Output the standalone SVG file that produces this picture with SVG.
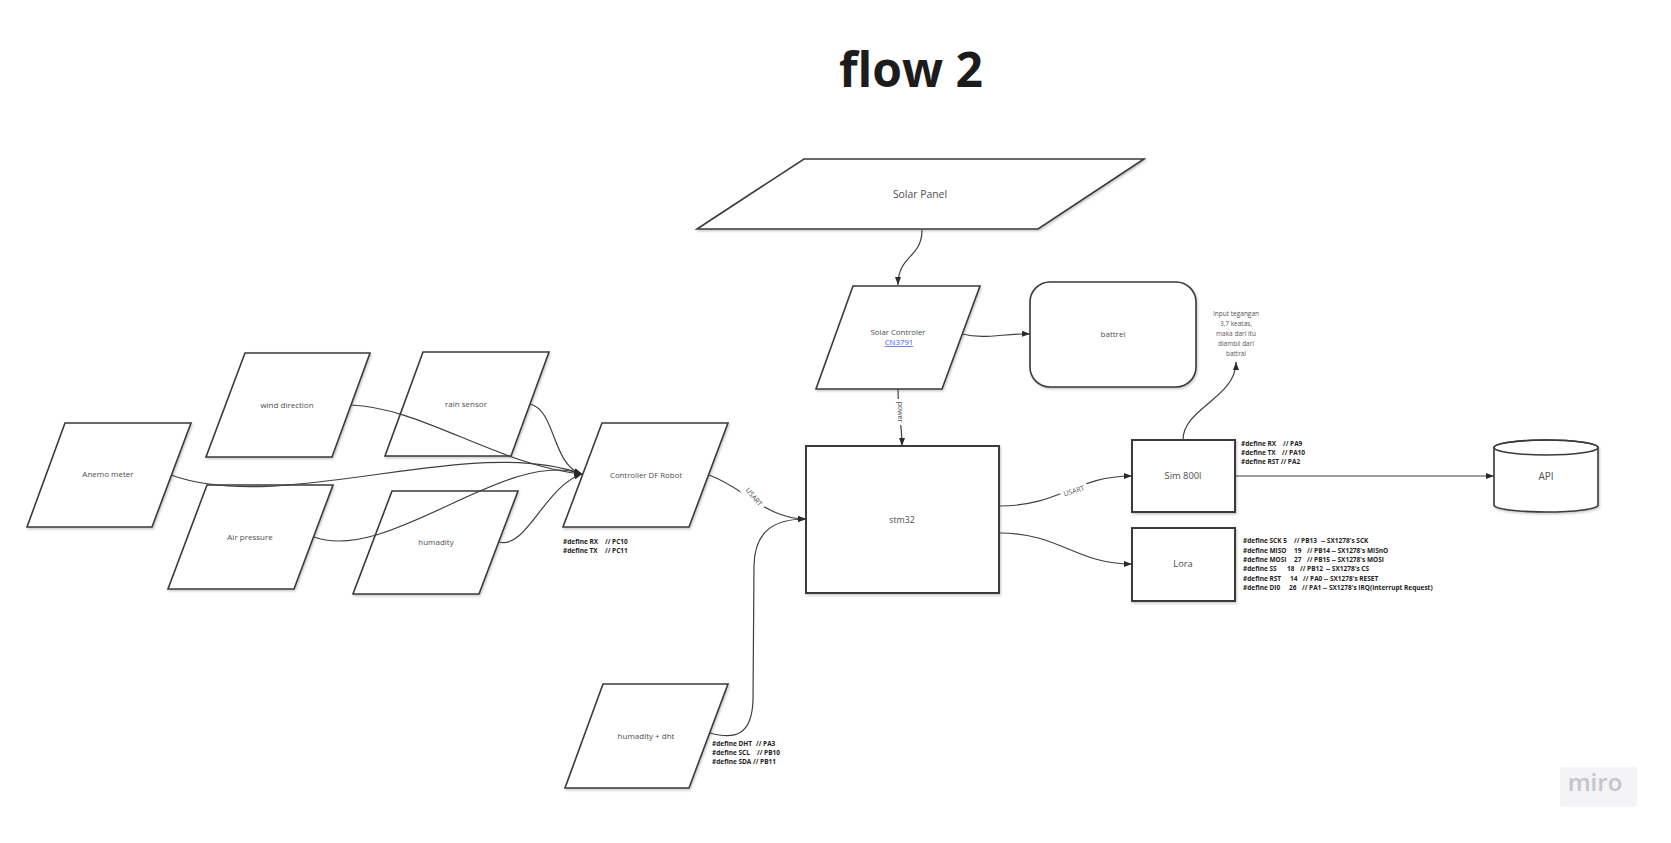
<svg xmlns="http://www.w3.org/2000/svg" width="1671" height="843" viewBox="0 0 1671 843">
  <defs>
    <filter id="sh" x="-10%" y="-10%" width="130%" height="130%">
      <feDropShadow dx="1" dy="1.5" stdDeviation="1.2" flood-color="#000" flood-opacity="0.22"/>
    </filter>
    <marker id="ah" markerUnits="userSpaceOnUse" markerWidth="8" markerHeight="6" refX="8" refY="3" orient="auto">
      <path d="M0,0 L8,3 L0,6 z" fill="#2b2b2b"/>
    </marker>
  </defs>
  <style>
    .shape { fill: #ffffff; stroke: #3a3a3a; stroke-width: 1.6; filter: url(#sh); }
    .lbl { font-family: "Open Sans", "Liberation Sans", sans-serif; fill: #4d4d4d; text-anchor: middle; font-size: 8px; }
    .def { font-family: "Open Sans", "Liberation Sans", sans-serif; fill: #222222; font-weight: 700; font-size: 6.5px; }
    .note { font-family: "Open Sans", "Liberation Sans", sans-serif; fill: #555555; font-size: 6.5px; text-anchor: middle; }
    .conn { fill: none; stroke: #3f3f3f; stroke-width: 1.2; }
    .clbl { font-family: "Open Sans", "Liberation Sans", sans-serif; fill: #4d4d4d; font-size: 7px; text-anchor: middle; }
  </style>
  <rect width="1671" height="843" fill="#ffffff"/>

  <text x="911" y="87" font-family="'Open Sans', 'Liberation Sans', sans-serif" font-size="48" font-weight="700" fill="#1c1c1c" text-anchor="middle">flow 2</text>

  <g id="solar-panel">
    <polygon class="shape" points="804,159 1144,159 1038,229 697,229"/>
    <text class="lbl" x="920" y="197.6" style="font-size:10.4px">Solar Panel</text>
  </g>
  <g id="solar-controller">
    <polygon class="shape" points="853,286 980,286 942,389 816,389"/>
    <text class="lbl" x="898" y="334.5" style="font-size:7.8px">Solar Controler</text>
    <text class="lbl" x="899" y="345" text-decoration="underline" style="font-size:7.8px;fill:#4262ff">CN3791</text>
  </g>
  <g id="battrei">
    <rect class="shape" x="1030" y="282" width="166" height="105" rx="20"/>
    <text class="lbl" x="1113" y="337">battrei</text>
  </g>
  <g id="note">
    <text class="note" x="1236" y="316">Input tegangan</text>
    <text class="note" x="1236" y="326">3,7 keatas,</text>
    <text class="note" x="1236" y="336">maka dari itu</text>
    <text class="note" x="1236" y="346">diambil dari</text>
    <text class="note" x="1236" y="356">battrai</text>
  </g>
  <g id="anemo-meter">
    <polygon class="shape" points="65,423 191,423 152,527 27,527"/>
    <text class="lbl" x="108" y="477">Anemo meter</text>
  </g>
  <g id="wind-direction">
    <polygon class="shape" points="245,353 370,353 332,457 206,457"/>
    <text class="lbl" x="287" y="407.5">wind direction</text>
  </g>
  <g id="rain-sensor">
    <polygon class="shape" points="423,352 549,352 511,456 385,456"/>
    <text class="lbl" x="466" y="406.5">rain sensor</text>
  </g>
  <g id="air-pressure">
    <polygon class="shape" points="207,485 333,485 294,589 168,589"/>
    <text class="lbl" x="250" y="540">Air pressure</text>
  </g>
  <g id="humadity">
    <polygon class="shape" points="392,491 518,491 479,594 353,594"/>
    <text class="lbl" x="436" y="545">humadity</text>
  </g>
  <g id="controller-df-robot">
    <polygon class="shape" points="602,423 728,423 689,527 563,527"/>
    <text class="lbl" x="646" y="477.5" style="font-size:7.8px">Controller DF Robot</text>
    <text class="def" x="563" y="543.5">#define RX<tspan x="605">// PC10</tspan></text>
    <text class="def" x="563" y="553">#define TX<tspan x="605">// PC11</tspan></text>
  </g>
  <g id="humadity-dht">
    <polygon class="shape" points="603,684 728,684 689,788 565,788"/>
    <text class="lbl" x="646" y="739">humadity + dht</text>
    <text class="def" x="712" y="745.5">#define DHT<tspan x="756">// PA3</tspan></text>
    <text class="def" x="712" y="755">#define SCL<tspan x="757">// PB10</tspan></text>
    <text class="def" x="712" y="764">#define SDA // PB11</text>
  </g>
  <g id="stm32">
    <rect class="shape" x="806" y="446" width="193" height="147" style="stroke-width:2"/>
    <text class="lbl" x="902" y="522.5" style="font-size:8.8px">stm32</text>
  </g>
  <g id="sim800l">
    <rect class="shape" x="1132" y="440" width="103" height="72" style="stroke-width:2"/>
    <text class="lbl" x="1183" y="479.3" style="font-size:9.3px">Sim 800l</text>
    <text class="def" x="1241" y="445.5">#define RX<tspan x="1283">// PA9</tspan></text>
    <text class="def" x="1241" y="454.5">#define TX<tspan x="1282">// PA10</tspan></text>
    <text class="def" x="1241" y="463.5">#define RST // PA2</text>
  </g>
  <g id="lora">
    <rect class="shape" x="1132" y="528" width="103" height="73" style="stroke-width:2"/>
    <text class="lbl" x="1183" y="567.3" style="font-size:9.3px">Lora</text>
    <text class="def" x="1243" y="543.3">#define SCK 5<tspan x="1294">// PB13</tspan><tspan x="1321">-- SX1278's SCK</tspan></text>
    <text class="def" x="1243" y="552.6">#define MISO<tspan x="1294">19</tspan><tspan x="1307">// PB14 -- SX1278's MISnO</tspan></text>
    <text class="def" x="1243" y="562">#define MOSI<tspan x="1294">27</tspan><tspan x="1307">// PB15 -- SX1278's MOSI</tspan></text>
    <text class="def" x="1243" y="571.3">#define SS<tspan x="1287">18</tspan><tspan x="1300">// PB12</tspan><tspan x="1326">-- SX1278's CS</tspan></text>
    <text class="def" x="1243" y="581">#define RST<tspan x="1290">14</tspan><tspan x="1303">// PA0 -- SX1278's RESET</tspan></text>
    <text class="def" x="1243" y="590.3">#define DI0<tspan x="1289">26</tspan><tspan x="1302">// PA1 -- SX1278's IRQ(Interrupt Request)</tspan></text>
  </g>
  <g id="api">
    <path class="shape" d="M1494,447.5 L1494,505 A52,7 0 0 0 1598,505 L1598,447.5 A52,7.5 0 0 0 1494,447.5 Z"/>
    <ellipse cx="1546" cy="447.5" rx="52" ry="7.5" fill="none" stroke="#3a3a3a" stroke-width="1.6"/>
    <text class="lbl" x="1546" y="479.5" style="font-size:10px">API</text>
  </g>
  <g id="miro-logo">
    <rect x="1560" y="767" width="77" height="40" rx="3" fill="#f4f4f6"/>
    <text x="1595" y="791" font-family="'Open Sans', 'Liberation Sans', sans-serif" font-size="24" font-weight="600" fill="#c4c4cc" text-anchor="middle">miro</text>
  </g>

  <g id="connectors">
    <path class="conn" d="M922,230 C922,258 898,255 898,285" marker-end="url(#ah)"/>
    <path class="conn" d="M962,334 C985,340 1005,333 1030,334" marker-end="url(#ah)"/>
    <path class="conn" d="M898,389 C898,410 902,425 902,446" marker-end="url(#ah)"/>
    <path class="conn" d="M171,475 C284,516 469,433 582,474" marker-end="url(#ah)"/>
    <path class="conn" d="M351,405 C420,407 500,466 582,474" marker-end="url(#ah)"/>
    <path class="conn" d="M530,404 C556,410 552,466 582,474" marker-end="url(#ah)"/>
    <path class="conn" d="M314,537 C389,564 507,447 582,474" marker-end="url(#ah)"/>
    <path class="conn" d="M499,542 C526,550 545,486 582,474" marker-end="url(#ah)"/>
    <path class="conn" d="M709,475 C745,488 766,519 806,519" marker-end="url(#ah)"/>
    <path class="conn" d="M710,733 C735,740 752,735 753,700 L754,565 C755,530 775,519 806,519" marker-end="url(#ah)"/>
    <path class="conn" d="M1000,506 C1060,506 1075,476 1132,476" marker-end="url(#ah)"/>
    <path class="conn" d="M1000,533 C1060,533 1075,564 1132,564" marker-end="url(#ah)"/>
    <path class="conn" d="M1235,476 L1494,476" marker-end="url(#ah)"/>
    <path class="conn" d="M1183,440 C1183,408 1236,398 1236,362" marker-end="url(#ah)"/>
    <g>
      <rect x="893" y="399" width="14" height="26" fill="#ffffff"/>
      <text class="clbl" transform="translate(900,412) rotate(90)" y="2.4">power</text>
    </g>
    <g>
      <rect x="740" y="490" width="28" height="14" fill="#ffffff" transform="rotate(50 754 497)"/>
      <text class="clbl" transform="translate(754,497) rotate(50)" y="2.4">USART</text>
    </g>
    <g>
      <rect x="1060" y="484" width="28" height="14" fill="#ffffff" transform="rotate(-18 1074 491)"/>
      <text class="clbl" transform="translate(1074,491) rotate(-18)" y="2.4">USART</text>
    </g>
  </g>
</svg>
